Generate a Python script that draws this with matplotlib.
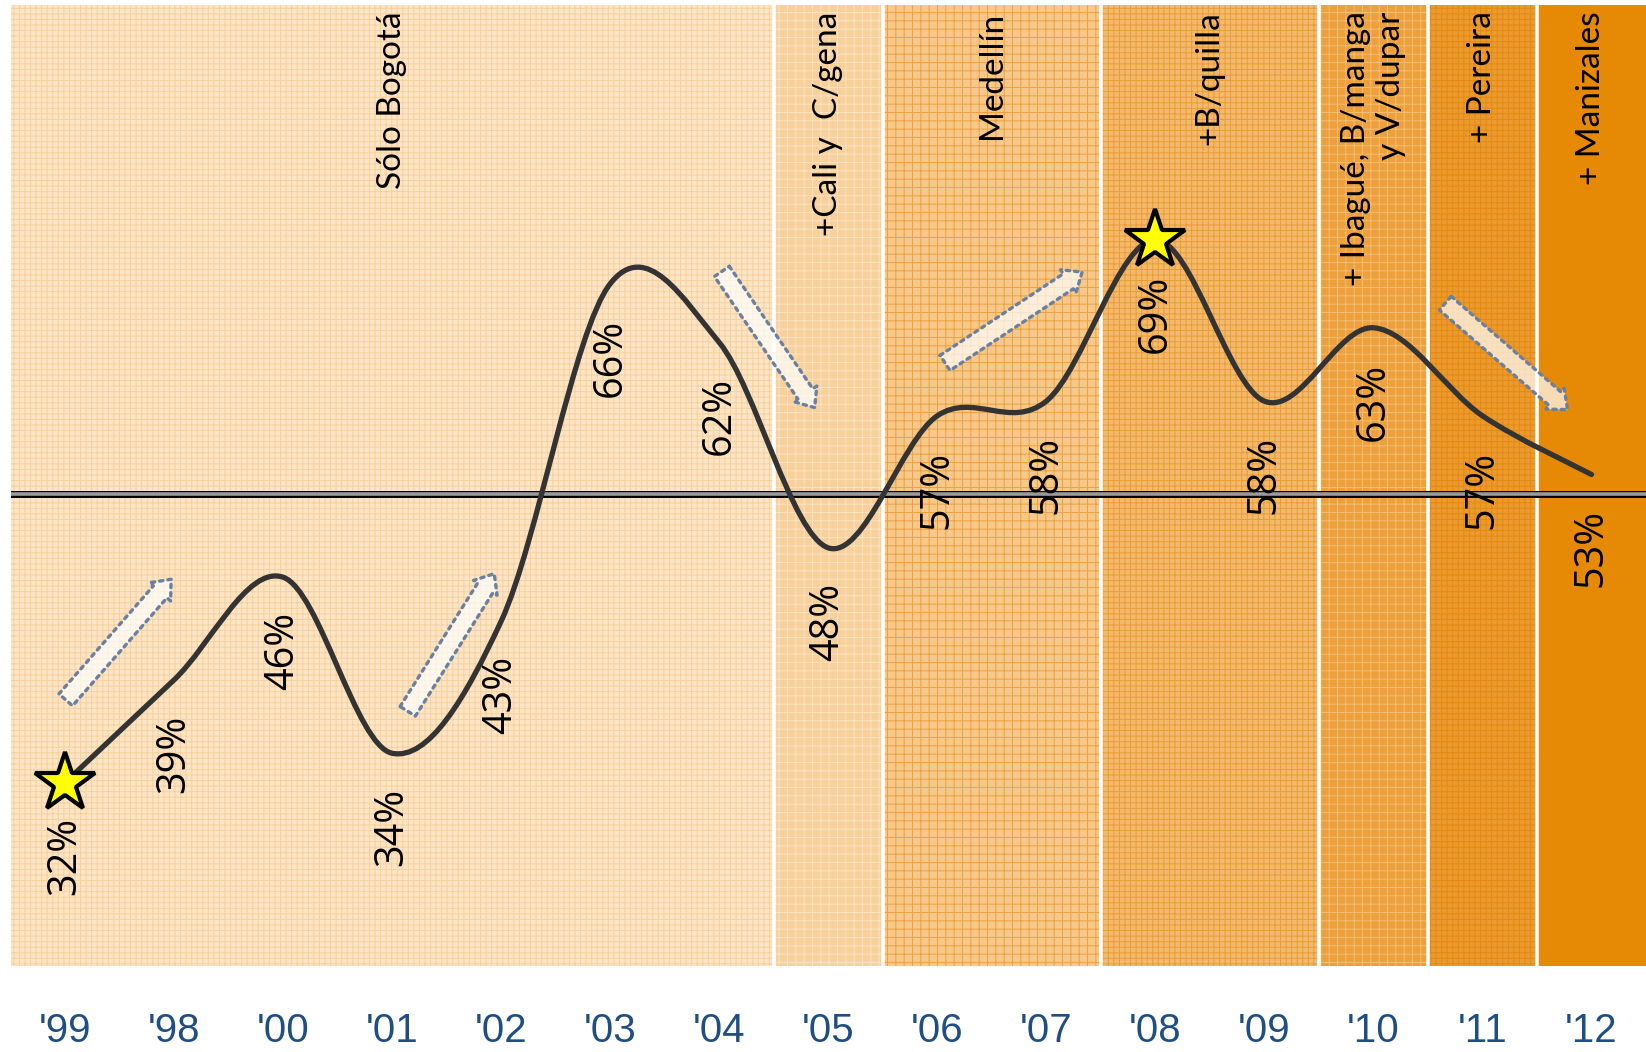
import numpy as np
import matplotlib
matplotlib.use("Agg")
import matplotlib.pyplot as plt
from matplotlib.path import Path
from matplotlib.patches import PathPatch, FancyArrowPatch

# data
years = ["'99", "'98", "'00", "'01", "'02", "'03", "'04", "'05",
         "'06", "'07", "'08", "'09", "'10", "'11", "'12"]
values = [32, 39, 46, 34, 43, 66, 62, 48, 57, 58, 69, 58, 63, 57, 53]
ref_line = 51.7

band_names = ["Sólo Bogotá", "+Cali y  C/gena", "Medellín", "+B/quilla",
              "+ Ibagué, B/manga\ny V/dupar", "+ Pereira", "+ Manizales"]
band_years = [7, 1, 2, 2, 1, 1, 1]

# styling
band_colors = ["#FCE5C6", "#F7D09C", "#F6C88A", "#F3BA6E", "#EEA03C", "#EB9A30", "#E68A05"]
hatch_colors = ["#F8D09C", "#FBE3C2", "#EFA040", "#EA9C35", "#F4BE74", "#E48A10", "#E68A05"]
hatches = ["+++", "++", "++", "+++", "++", "+++", None]

# arrows (tail -> tip) in data units
arrows = [((-0.01, 37.5), (0.99, 46.0)),
          ((3.13, 36.7), (3.95, 46.4)),
          ((6.01, 67.0), (6.89, 57.4)),
          ((8.05, 60.5), (9.35, 66.9)),
          ((12.64, 64.8), (13.80, 57.3))]

plt.rcParams['hatch.linewidth'] = 0.7

fig = plt.figure(figsize=(16.46, 10.52), dpi=100)
ax = fig.add_axes([10.5 / 1646, 86 / 1052, 1 - 10.5 / 1646, 961 / 1052])
ax.set_xlim(-0.5, 14.5)
ax.set_ylim(19.5, 85)

# background bands
ymin, ymax = ax.get_ylim()
edges = np.cumsum([0] + band_years) - 0.5
for i, name in enumerate(band_names):
    left, right = edges[i], edges[i + 1]
    ax.bar((left + right) / 2, ymax - ymin, width=right - left, bottom=ymin,
           color=band_colors[i], edgecolor=hatch_colors[i], linewidth=0,
           hatch=hatches[i], zorder=0)
    ax.text((left + right) / 2, ymax - 0.45, name, rotation=90, ha='center', va='top',
            multialignment='right', fontsize=24, family='Lato', color='black', zorder=5)
for b in edges[1:-1]:
    ax.axvline(b, color='white', lw=2.6, zorder=1)

# reference line
ax.axhline(ref_line, color='black', lw=5, zorder=2)
ax.axhline(ref_line, color='#9A9A9A', lw=2.6, zorder=2)

# arrows
for tail, tip in arrows:
    arr = FancyArrowPatch(tail, tip, arrowstyle="simple,head_length=12,head_width=20,tail_width=13",
                          mutation_scale=1, facecolor=(1, 1, 1, 0.7), edgecolor='#6A80A0',
                          linestyle=(0, (1, 1.5)), linewidth=2.4, capstyle='round', zorder=3)
    ax.add_patch(arr)

# smoothed line (bezier through the points)
x = np.arange(len(values), dtype=float)
y = np.array(values, dtype=float)
pts = np.column_stack([x, y])
ext = np.vstack([pts[0], pts, pts[-1]])
verts = [pts[0]]
codes = [Path.MOVETO]
for i in range(len(pts) - 1):
    p0, p1, p2, p3 = ext[i], ext[i + 1], ext[i + 2], ext[i + 3]
    verts += [p1 + (p2 - p0) / 6, p2 - (p3 - p1) / 6, p2]
    codes += [Path.CURVE4] * 3
ax.add_patch(PathPatch(Path(verts, codes), facecolor='none', edgecolor='#333333',
                       lw=3.8, capstyle='round', zorder=4))

# stars at min and max
for idx in [int(np.argmin(y)), int(np.argmax(y))]:
    ax.plot(x[idx], y[idx], marker='*', markersize=45, markerfacecolor='#FFFF00',
            markeredgecolor='black', markeredgewidth=3, zorder=6)

# value labels
for xi, v in zip(x, values):
    ax.annotate(f"{v}%", (xi, v), xytext=(0, -25), textcoords='offset points',
                rotation=90, ha='center', va='top', fontsize=28.5, family='Open Sans',
                color='black', zorder=7)

ax.set_xticks(x)
ax.set_xticklabels(years, fontsize=29, family='Liberation Sans', color='#1F4E84')
ax.tick_params(axis='x', length=0, pad=33)
ax.set_yticks([])
for s in ax.spines.values():
    s.set_visible(False)

fig.savefig("out.png", dpi=100)
